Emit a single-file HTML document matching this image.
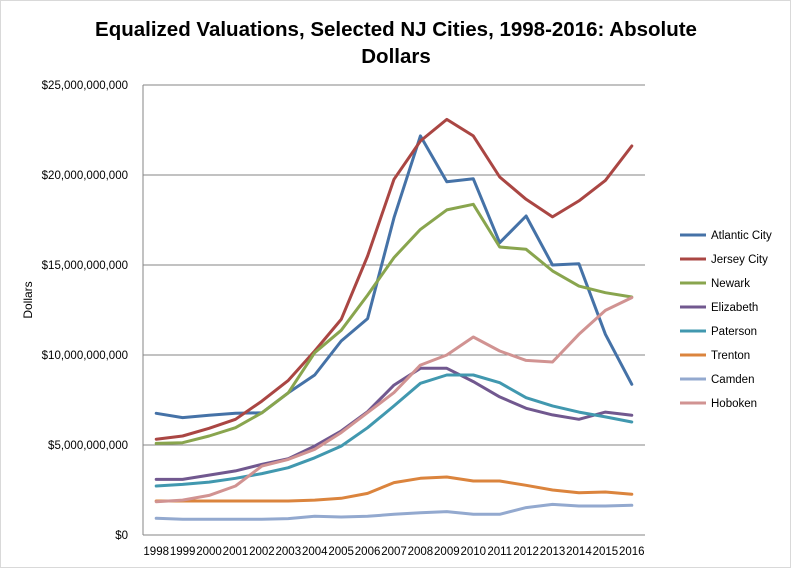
<!DOCTYPE html>
<html><head><meta charset="utf-8"><style>
body{margin:0;background:#fff;}
svg{display:block;font-family:"Liberation Sans",sans-serif;}
</style></head><body>
<svg id="chart" width="791" height="568">
<rect x="0.5" y="0.5" width="790" height="567" fill="#fff" stroke="#d9d9d9"/>
<text x="396" y="36" text-anchor="middle" font-size="20.5" font-weight="bold">Equalized Valuations, Selected NJ Cities, 1998-2016:  Absolute</text>
<text x="396" y="63" text-anchor="middle" font-size="20.5" font-weight="bold">Dollars</text>
<text transform="translate(32,300) rotate(-90)" text-anchor="middle" font-size="12">Dollars</text>
<g id="grid"></g><g id="series"></g><g id="legend"></g>
</svg>
<script>
const years=["1998","1999","2000","2001","2002","2003","2004","2005","2006","2007","2008","2009","2010","2011","2012","2013","2014","2015","2016"];
const yTicks=[0,5,10,15,20,25];
const yTickLabels=["$0","$5,000,000,000","$10,000,000,000","$15,000,000,000","$20,000,000,000","$25,000,000,000"];
const seriesNames=["Atlantic City","Jersey City","Newark","Elizabeth","Paterson","Trenton","Camden","Hoboken"];
const seriesColors=["#4572A7","#AA4643","#89A54E","#71588F","#4198AF","#DB843D","#93A9CF","#D19392"];
const atlanticCity=[6.76,6.52,6.65,6.76,6.79,7.9,8.89,10.78,12.02,17.63,22.17,19.63,19.79,16.24,17.72,15.0,15.07,11.15,8.37];
const jerseyCity=[5.32,5.5,5.93,6.43,7.44,8.59,10.22,11.98,15.5,19.76,21.89,23.09,22.17,19.89,18.65,17.67,18.56,19.7,21.61];
const newark=[5.09,5.13,5.5,5.96,6.79,7.9,10.13,11.37,13.33,15.41,16.98,18.06,18.37,16.0,15.87,14.67,13.83,13.46,13.22];
const elizabeth=[3.09,3.09,3.33,3.56,3.93,4.24,4.94,5.78,6.85,8.33,9.26,9.26,8.52,7.67,7.04,6.67,6.43,6.83,6.65];
const paterson=[2.72,2.81,2.94,3.15,3.41,3.74,4.29,4.94,5.96,7.17,8.43,8.89,8.89,8.46,7.63,7.17,6.83,6.56,6.28];
const trenton=[1.89,1.89,1.89,1.89,1.89,1.89,1.94,2.04,2.31,2.91,3.15,3.22,3.0,3.0,2.76,2.5,2.35,2.39,2.26];
const camden=[0.93,0.87,0.87,0.87,0.87,0.91,1.04,1.0,1.04,1.15,1.24,1.3,1.15,1.15,1.52,1.7,1.61,1.61,1.65];
const hoboken=[1.85,1.94,2.2,2.72,3.83,4.2,4.76,5.69,6.8,7.91,9.44,10.0,11.0,10.22,9.7,9.61,11.15,12.48,13.19];
const seriesData=[atlanticCity,jerseyCity,newark,elizabeth,paterson,trenton,camden,hoboken];

const NS="http://www.w3.org/2000/svg";
const plotLeft=143,plotRight=645,plotTop=85,plotBottom=535,yMax=25;
const step=(plotRight-plotLeft)/years.length;
function xScale(i){return plotLeft+step*(i+0.5);}
function yScale(v){return plotBottom-(v/yMax)*(plotBottom-plotTop);}
function mk(tag,attrs,parent){const e=document.createElementNS(NS,tag);for(const k in attrs)e.setAttribute(k,attrs[k]);parent.appendChild(e);return e;}
const grid=document.getElementById('grid');
yTicks.forEach((t,i)=>{
  const y=yScale(t);
  const l=mk('line',{x1:plotLeft,x2:plotRight,y1:y,y2:y,stroke:'#868686','stroke-width':1},grid);
  
  
  const tx=mk('text',{x:plotLeft-15,y:y+4,'text-anchor':'end','font-size':11.5},grid);
  tx.textContent=yTickLabels[i];
  
  
});
const ax=mk('line',{x1:plotLeft,x2:plotLeft,y1:plotTop,y2:plotBottom,stroke:'#868686'},grid);


years.forEach((yr,i)=>{
  const tx=mk('text',{x:xScale(i),y:555,'text-anchor':'middle','font-size':11.5},grid);
  tx.textContent=yr;
  
  
});
const sg=document.getElementById('series');
seriesData.forEach((d,s)=>{
  const pts=d.map((v,i)=>xScale(i).toFixed(1)+','+yScale(v).toFixed(1)).join(' ');
  const p=mk('polyline',{points:pts,fill:'none',stroke:seriesColors[s],'stroke-width':3,'stroke-linejoin':'round','stroke-linecap':'round'},sg);
  
  
});
const lg=document.getElementById('legend');
seriesNames.forEach((n,s)=>{
  const y=235+s*24;
  const l=mk('line',{x1:680,x2:706,y1:y,y2:y,stroke:seriesColors[s],'stroke-width':3},lg);
  
  
  const t=mk('text',{x:711,y:y+4,'font-size':11.5},lg);
  t.textContent=n;
  
  
});
</script>
</body></html>
